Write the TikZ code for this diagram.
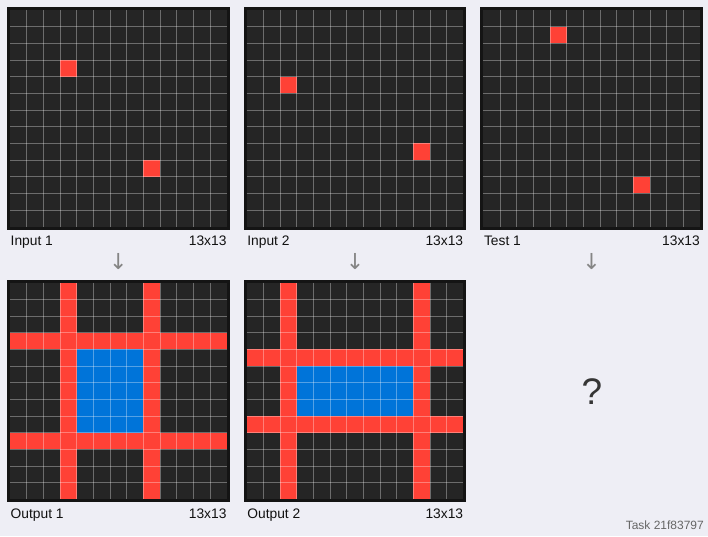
\documentclass[tikz,border=0pt]{standalone}
\usepackage{fontspec}
\setmainfont{Liberation Sans}
\newfontfamily\symfont{DejaVu Sans}
\usepackage{xcolor}
\definecolor{cPage}{HTML}{EEEEF5}
\definecolor{cCell}{HTML}{252525}
\definecolor{cFrame}{HTML}{141414}
\definecolor{cRed}{HTML}{FF4136}
\definecolor{cBlue}{HTML}{0074D9}
\definecolor{cText}{HTML}{111111}
\definecolor{cGray}{HTML}{858585}
\definecolor{cTask}{HTML}{666666}
\usepackage{tikz}
\usetikzlibrary{positioning,calc}
\newcommand{\cellsz}{16.667}
\tikzset{
  grid-box/.style={draw=cFrame,line width=3pt,fill=cCell,
    minimum size=219.67pt,inner sep=0pt,outer sep=0pt},
  grid-line/.style={draw=white,draw opacity=0.33,line width=0.8pt},
  lbl/.style={font=\fontsize{13.8}{16}\selectfont,text=cText,inner sep=0pt},
  flow-arrow/.style={font=\symfont\fontsize{22}{24}\selectfont,text=cGray,inner sep=0pt},
}
% block of cells: grid, colour, col0, row0, col1, row1
\newcommand{\fillcells}[6]{%
  \fill[#2] ($(#1.north west)+(1.5+#3*\cellsz,1.5+#4*\cellsz)$)
    rectangle ($(#1.north west)+(1.5+#5*\cellsz+\cellsz,1.5+#6*\cellsz+\cellsz)$);}
% 13x13 lines on top of the cells
\newcommand{\gridlines}[1]{%
  \foreach \i in {1,...,12}{
    \draw[grid-line] ($(#1.north west)+(1.5+\i*\cellsz,1.5)$) -- ++(0,216.67);
    \draw[grid-line] ($(#1.north west)+(1.5,1.5+\i*\cellsz)$) -- ++(216.67,0);
  }}
\begin{document}
\begin{tikzpicture}[x=1pt,y=-1pt]
  \fill[cPage] (0,0) rectangle (708,536);
  \useasboundingbox (0,0) rectangle (708,536);

  % grids
  \node[grid-box] (in1) at (118.33,118.33) {};
  \node[grid-box,right=17pt of in1] (in2) {};
  \node[grid-box,right=17pt of in2] (test) {};
  \node[grid-box,below=53pt of in1] (out1) {};
  \node[grid-box,below=53pt of in2] (out2) {};

  % input 1 / output 1
  \fillcells{in1}{cRed}{3}{3}{3}{3}
  \fillcells{in1}{cRed}{8}{9}{8}{9}
  \fillcells{out1}{cRed}{3}{0}{3}{12}
  \fillcells{out1}{cRed}{8}{0}{8}{12}
  \fillcells{out1}{cRed}{0}{3}{12}{3}
  \fillcells{out1}{cRed}{0}{9}{12}{9}
  \fillcells{out1}{cBlue}{4}{4}{7}{8}

  % input 2 / output 2
  \fillcells{in2}{cRed}{2}{4}{2}{4}
  \fillcells{in2}{cRed}{10}{8}{10}{8}
  \fillcells{out2}{cRed}{2}{0}{2}{12}
  \fillcells{out2}{cRed}{10}{0}{10}{12}
  \fillcells{out2}{cRed}{0}{4}{12}{4}
  \fillcells{out2}{cRed}{0}{8}{12}{8}
  \fillcells{out2}{cBlue}{3}{5}{9}{7}

  % test
  \fillcells{test}{cRed}{4}{1}{4}{1}
  \fillcells{test}{cRed}{9}{10}{9}{10}

  \foreach \g in {in1,in2,test,out1,out2}{\gridlines{\g}}

  % captions
  \node[lbl,anchor=base west] (in1-name) at ($(in1.south west)+(2,17.5)$) {Input 1};
  \node[lbl,anchor=base east] (in1-size) at ($(in1.south east)+(-1.5,17.5)$) {13x13};
  \node[lbl,anchor=base west] (in2-name) at ($(in2.south west)+(2,17.5)$) {Input 2};
  \node[lbl,anchor=base east] (in2-size) at ($(in2.south east)+(-1.5,17.5)$) {13x13};
  \node[lbl,anchor=base west] (test-name) at ($(test.south west)+(2,17.5)$) {Test 1};
  \node[lbl,anchor=base east] (test-size) at ($(test.south east)+(-1.5,17.5)$) {13x13};
  \node[lbl,anchor=base west] (out1-name) at ($(out1.south west)+(2,17.5)$) {Output 1};
  \node[lbl,anchor=base east] (out1-size) at ($(out1.south east)+(-1.5,17.5)$) {13x13};
  \node[lbl,anchor=base west] (out2-name) at ($(out2.south west)+(2,17.5)$) {Output 2};
  \node[lbl,anchor=base east] (out2-size) at ($(out2.south east)+(-1.5,17.5)$) {13x13};

  % arrows between rows
  \node[flow-arrow] (arr1) at ($(in1.south)+(0,33)$) {↓};
  \node[flow-arrow] (arr2) at ($(in2.south)+(0,33)$) {↓};
  \node[flow-arrow] (arr3) at ($(test.south)+(0,33)$) {↓};

  \node[font=\fontsize{37}{40}\selectfont,text=cText!85!white,inner sep=0pt] (qmark) at (592,392) {?};
  \node[font=\fontsize{12}{14}\selectfont,text=cTask,inner sep=0pt,anchor=base east] (task) at (704,529) {Task 21f83797};
\end{tikzpicture}
\end{document}
